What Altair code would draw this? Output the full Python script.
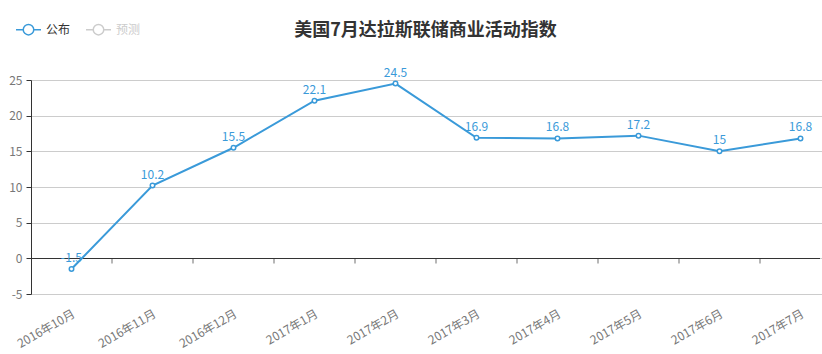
import altair as alt
import pandas as pd

months = ["2016年10月", "2016年11月", "2016年12月", "2017年1月", "2017年2月",
          "2017年3月", "2017年4月", "2017年5月", "2017年6月", "2017年7月"]
values = [-1.5, 10.2, 15.5, 22.1, 24.5, 16.9, 16.8, 17.2, 15, 16.8]
series_names = ["公布", "预测"]
y_ticks = [-5, 0, 5, 10, 15, 20, 25]

BLUE = "#3a9ad9"
FONT = "Noto Sans CJK SC"

df = pd.DataFrame({"month": months, "value": values, "series": series_names[0]})
df["label"] = [str(v) for v in values]
ticks_df = pd.DataFrame({"month": months[1:]})

# the category axis runs slightly past the right edge of the window, as in the original
x_scale = alt.Scale(paddingInner=0, paddingOuter=0, range=[0, 810])
x_axis = alt.Axis(labelAngle=-30, labelAlign="right", labelBaseline="top",
                  labelPadding=14, labelFontSize=12, labelColor="#777",
                  labelFont=FONT, domain=False, ticks=False, grid=False,
                  labelOverlap=False)
x_enc = alt.X("month:N", sort=months, title=None, scale=x_scale, axis=x_axis)
y_scale = alt.Scale(domain=[-5, 25], nice=False)
y_axis = alt.Axis(values=y_ticks, labelFontSize=12, labelOverlap=False,
                  labelExpr="replace(datum.label, '\u2212', '-')",
                  labelColor="#777", labelFont=FONT, labelPadding=4,
                  domain=True, domainColor="#333", tickColor="#333", tickSize=5,
                  gridColor="#ccc", grid=True, title=None)
y_enc = alt.Y("value:Q", scale=y_scale, title=None, axis=y_axis)

sym = "M-1,0 L-0.42,0 M0.42,0 L1,0 M0.42,0 A0.42,0.42 0 1,1 -0.42,0 A0.42,0.42 0 1,1 0.42,0 Z"

line = alt.Chart(df).mark_line(strokeWidth=2).encode(
    x=x_enc, y=y_enc,
    color=alt.Color("series:N", scale=alt.Scale(domain=series_names, range=[BLUE, "#ccc"]),
                    legend=alt.Legend(title=None, orient="none", legendX=-16, legendY=-64,
                                      direction="horizontal", symbolType=sym, symbolSize=625,
                                      symbolStrokeWidth=1.5, symbolFillColor="white",
                                      labelFontSize=12, labelFont=FONT, columnPadding=12,
                                      labelColor={"expr": "datum.label == '预测' ? '#ccc' : '#333'"}))
)

zero = alt.Chart(df).mark_rule(color="#333", strokeWidth=1, yOffset=0.17).encode(
    y=alt.datum(0, scale=y_scale, axis=y_axis))

ticks = alt.Chart(ticks_df).mark_tick(color="#333", thickness=1, size=5, orient="vertical",
                                      yOffset=2.67).encode(
    x=alt.X("month:N", sort=months, bandPosition=0, scale=x_scale, axis=x_axis, title=None),
    y=alt.datum(0, scale=y_scale, axis=y_axis),
)

points = alt.Chart(df).mark_point(filled=True, fill="white", stroke=BLUE, strokeWidth=1.5,
                                  size=20, opacity=1).encode(x=x_enc, y=y_enc)

labels = alt.Chart(df).mark_text(dy=-11, color=BLUE, fontSize=12, font=FONT).encode(
    x=x_enc, y=y_enc, text="label:N")

chart = alt.layer(zero, ticks, line, points, labels).properties(
    width=789, height=214,
    title=alt.Title("美国7月达拉斯联储商业活动指数", fontSize=18, fontWeight="bold",
                    color="#333", font=FONT, offset=-24, anchor="middle"),
    autosize=alt.AutoSizeParams(type="none"),
    padding={"left": 31, "top": 80, "right": 2, "bottom": 60},
).configure_view(stroke=None)

chart.save("out.html", embed_options={"renderer": "svg", "actions": False})
